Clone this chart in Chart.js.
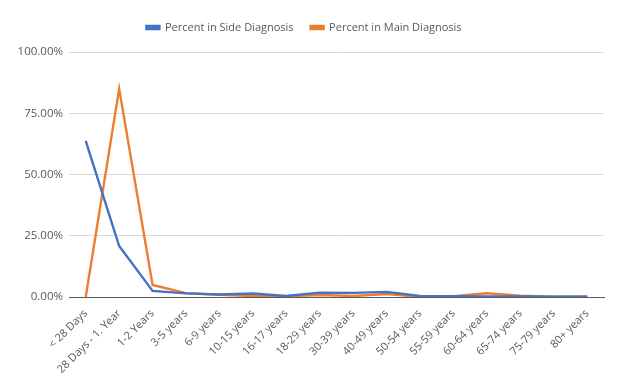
<!DOCTYPE html>
<html><head><meta charset="utf-8">
<script src="https://cdn.jsdelivr.net/npm/chart.js@4"></script>
<style>html,body{margin:0;padding:0;background:#fff}#w{width:624px;height:385px}</style>
</head><body><div id="w"><canvas id="c" width="624" height="385"></canvas></div>
<script>
const categories = ["< 28 Days","28 Days - 1. Year","1-2 Years","3-5 years","6-9 years","10-15 years","16-17 years","18-29 years","30-39 years","40-49 years","50-54 years","55-59 years","60-64 years","65-74 years","75-79 years","80+ years"];
const sideDiagnosis = [63.7,20.8,2.5,1.5,1.0,1.4,0.4,1.8,1.7,2.1,0.4,0.3,0.2,0.2,0.1,0.1];
const mainDiagnosis = [0.0,85.0,4.9,1.6,0.9,0.4,0.3,0.8,0.4,1.2,0.1,0.3,1.5,0.5,0.1,0.2];
const yTicks = [0,25,50,75,100];

const legendHeight = {
  id:'legendHeight',
  afterInit(chart){
    const lg = chart.legend; if(!lg) return;
    const orig = lg.fit;
    lg.fit = function(){ orig.call(this); this.height = 47; };
  }
};

new Chart(document.getElementById('c'), {
  type: 'line',
  data: {
    labels: categories,
    datasets: [
      {label:'Percent in Side Diagnosis', data: sideDiagnosis, borderColor:'#4472c4', backgroundColor:'#4472c4', borderWidth:2.4, pointRadius:0, tension:0},
      {label:'Percent in Main Diagnosis', data: mainDiagnosis, borderColor:'#ed7d31', backgroundColor:'#ed7d31', borderWidth:2.4, pointRadius:0, tension:0}
    ]
  },
  plugins:[legendHeight],
  options: {
    responsive:false, animation:false,
    layout:{padding:{left:4,right:20,top:5,bottom:0}},
    plugins:{
      legend:{position:'top', labels:{boxWidth:13, boxHeight:3, color:'#595959', font:{family:'Open Sans', size:11}, padding:17}},
      tooltip:{enabled:false}
    },
    scales:{
      x:{offset:true, grid:{display:false}, border:{display:true,color:'#595959',width:1},
         afterFit:(s)=>{s.height=88;},
         ticks:{color:'#595959', font:{family:'Open Sans', size:11}, maxRotation:45, minRotation:45, autoSkip:false, padding:2}},
      y:{min:0,max:100, afterBuildTicks:(s)=>{s.ticks=yTicks.map(v=>({value:v}));},
         afterFit:(s)=>{s.width=65;},
         grid:{color:(ctx)=>ctx.tick && ctx.tick.value===0 ? 'rgba(0,0,0,0)' : '#d9d9d9', drawTicks:false},
         border:{display:false},
         ticks:{color:'#595959', font:{family:'Open Sans', size:11.5}, padding:6, callback:(v)=>v.toFixed(2)+'%'}}
    }
  }
});
</script></body></html>
